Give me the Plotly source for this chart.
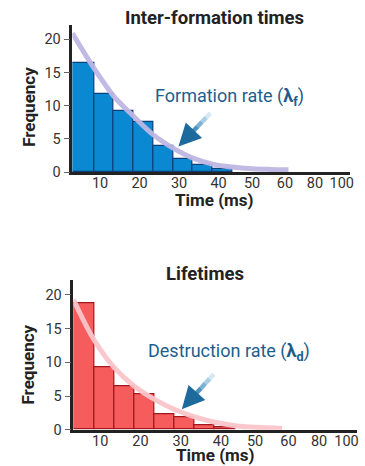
import numpy as np
import plotly.graph_objects as go

# ---------------- data ----------------
form_edges = [3.0, 8.5, 13.5, 18.5, 23.5, 28.5, 33.5, 38.5, 43.5]
form_counts = [16.4, 11.7, 9.2, 7.6, 3.9, 1.9, 1.0, 0.45]
form_curve_t = [3.0, 8.5, 13.5, 18.5, 23.5, 28.5, 33.5, 38.5, 43.5, 48.5, 53.0, 57.7]
form_curve_y = [20.9, 15.6, 11.4, 8.4, 5.6, 3.6, 2.1, 1.2, 0.75, 0.5, 0.4, 0.35]

life_edges = [3.35, 8.5, 13.5, 18.5, 23.5, 28.5, 33.5, 38.5, 43.5]
life_counts = [18.8, 9.3, 6.5, 5.3, 2.3, 1.8, 0.7, 0.35]
life_curve_t = [3.35, 8.5, 13.5, 18.5, 23.5, 28.5, 33.5, 38.5, 43.5, 48.5, 55.2]
life_curve_y = [19.3, 13.3, 9.2, 6.45, 4.5, 3.0, 1.9, 1.1, 0.6, 0.35, 0.2]

x_tick_pos = [10, 20, 30, 40, 48.5, 56.8, 64.4, 71.2]
x_tick_text = ["10", "20", "30", "40", "50", "60", "80", "100"]
y_ticks = [0, 5, 10, 15, 20]

FONT = "Roboto"
W, H = 365, 466
K = 1 / 0.982  # layout scale factor


def px(x):
    return x * K / W


def py(y):
    return 1 - y * K / H


def bars(edges, counts):
    e = np.array(edges)
    return (e[:-1] + e[1:]) / 2, np.diff(e), counts


fig = go.Figure()

c, w, h = bars(form_edges, form_counts)
fig.add_trace(go.Bar(x=c, y=h, width=w, marker=dict(color="#0a89d2", line=dict(color="#0d3f78", width=1.2)),
                     xaxis="x", yaxis="y", showlegend=False))
fig.add_trace(go.Scatter(x=form_curve_t, y=form_curve_y, mode="lines",
                         line=dict(color="rgba(190,182,228,0.95)", width=5, shape="spline"),
                         xaxis="x", yaxis="y", showlegend=False))

c, w, h = bars(life_edges, life_counts)
fig.add_trace(go.Bar(x=c, y=h, width=w, marker=dict(color="#f65c5c", line=dict(color="#a3171c", width=1.2)),
                     xaxis="x2", yaxis="y2", showlegend=False))
fig.add_trace(go.Scatter(x=life_curve_t, y=life_curve_y, mode="lines",
                         line=dict(color="rgba(250,196,201,0.95)", width=5, shape="spline"),
                         xaxis="x2", yaxis="y2", showlegend=False))

xcommon = dict(showgrid=False, zeroline=False, showline=True, linecolor="#222", linewidth=2.5,
               ticks="", tickvals=x_tick_pos, ticktext=x_tick_text, ticklabelstandoff=-4,
               tickfont=dict(family=FONT, size=14.5, color="#333"), fixedrange=True)
ycommon = dict(showgrid=False, zeroline=False, showline=True, linecolor="#222", linewidth=2.5,
               ticks="outside", ticklen=6, tickwidth=1, tickcolor="#666", tickvals=y_ticks,
               tickfont=dict(family=FONT, size=14.5, color="#333"), range=[0, 22.15], fixedrange=True)

fig.update_layout(
    width=W, height=H, autosize=False,
    margin=dict(l=0, r=0, t=0, b=0),
    paper_bgcolor="white", plot_bgcolor="white",
    bargap=0,
    xaxis=dict(**xcommon, domain=[px(71.7), px(347)], range=[3.0, 73.4], anchor="y"),
    yaxis=dict(**ycommon, domain=[py(172.3), py(25)], anchor="x"),
    xaxis2=dict(**xcommon, domain=[px(72.7), px(353)], range=[3.35, 73.7], anchor="y2"),
    yaxis2=dict(**ycommon, domain=[py(430.3), py(280.7)], anchor="x2"),
)

ann = []


def text(x, y, s, size, bold=True, color="#222", angle=0):
    ann.append(dict(x=px(x), y=py(y), xref="paper", yref="paper", showarrow=False,
                    text=f"<b>{s}</b>" if bold else s, textangle=angle,
                    font=dict(family=FONT, size=size, color=color),
                    xanchor="center", yanchor="middle"))


text(212.7, 18, "Inter-formation times", 18.5)
text(203.3, 274.7, "Lifetimes", 18.5)
text(212.7, 200.5, "Time (ms)", 17)
text(213.3, 455.5, "Time (ms)", 17)
text(28, 106.7, "Frequency", 17, angle=-90)
text(28, 364.7, "Frequency", 17, angle=-90)
text(227, 96.7, "Formation rate (<b>λ<sub>f</sub></b>)", 18, bold=False, color="#1d5e8e")
text(227, 352.3, "Destruction rate (<b>λ<sub>d</sub></b>)", 18, bold=False, color="#1d5e8e")

shapes = []


def arrow(tail, tip):
    (x0, y0), (x1, y1) = tail, tip
    cols = ["#d6e8f3", "#a9cde4", "#7bb1d3", "#4f93c0", "#2d78ab", "#1d6a9c"]
    n = len(cols)
    xe, ye = x0 + (x1 - x0) * 0.8, y0 + (y1 - y0) * 0.8
    for i, col in enumerate(cols):
        a, b = i / n, (i + 1) / n
        shapes.append(dict(type="line", xref="paper", yref="paper",
                           x0=px(x0 + (xe - x0) * a), y0=py(y0 + (ye - y0) * a),
                           x1=px(x0 + (xe - x0) * b), y1=py(y0 + (ye - y0) * b),
                           line=dict(color=col, width=4.5)))
    ann.append(dict(x=px(x1), y=py(y1), xref="paper", yref="paper", text="", showarrow=True,
                    ax=(xe - x1) * 1.05 * K, ay=(ye - y1) * 1.05 * K, axref="pixel", ayref="pixel",
                    arrowhead=2, arrowsize=1.0, arrowwidth=4.5, arrowcolor="#1d6a9c"))


arrow((208.3, 113.3), (176.7, 146.7))
arrow((211.7, 374.7), (180, 409.7))

fig.update_layout(annotations=ann, shapes=shapes)
fig.write_html("out.html", config={"displayModeBar": False},
               post_script="document.body.style.margin='0';")
